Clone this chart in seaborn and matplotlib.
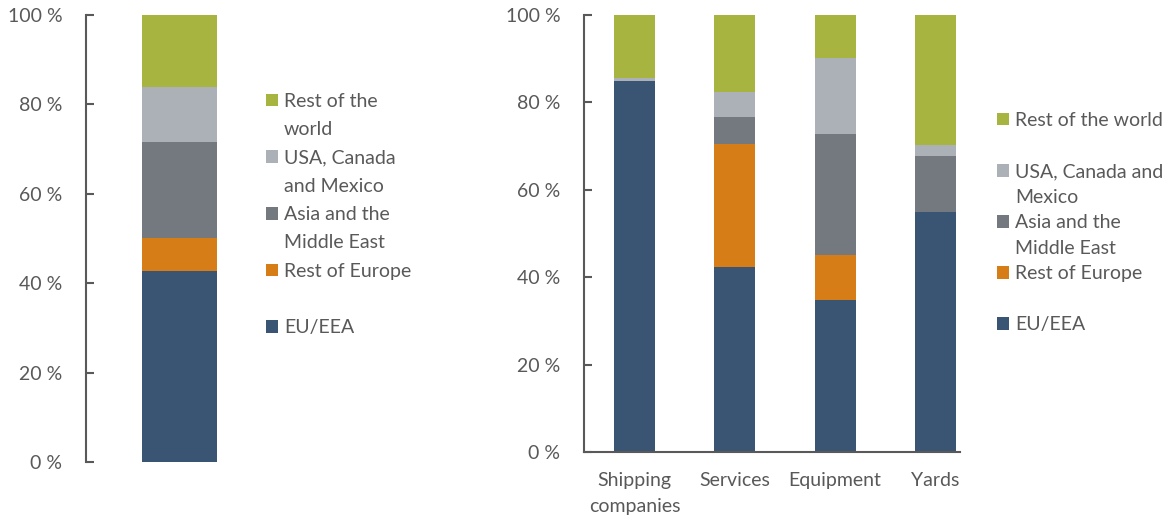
import matplotlib
matplotlib.use("Agg")
import matplotlib.pyplot as plt
import matplotlib.patches as mpatches
import seaborn as sns

sns.set_theme(style="white")
plt.rcParams['font.family'] = ['Lato', 'DejaVu Sans']

# ---- data ----
series = ["EU/EEA", "Rest of Europe", "Asia and the Middle East",
          "USA, Canada and Mexico", "Rest of the world"]
colors = ["#3A5573", "#D77D17", "#73797F", "#ABB1B7", "#A8B440"]

total_cat = ["Total"]
total_vals = [42.7, 7.5, 21.4, 12.3, 16.1]

categories = ["Shipping\ncompanies", "Services", "Equipment", "Yards"]
eu_eea = [84.8, 42.3, 34.9, 54.9]
rest_europe = [0.0, 28.2, 10.3, 0.0]
asia_me = [0.0, 6.2, 27.5, 12.7]
usa_can_mex = [0.8, 5.6, 17.4, 2.6]
rest_world = [14.4, 17.7, 9.9, 29.8]
segment_vals = [eu_eea, rest_europe, asia_me, usa_can_mex, rest_world]

yticks = [0, 20, 40, 60, 80, 100]
ytick_labels = ["0 %", "20 %", "40 %", "60 %", "80 %", "100 %"]

left_legend_lines = [("Rest of the", 4), ("world", None), ("USA, Canada", 3), ("and Mexico", None),
                     ("Asia and the", 2), ("Middle East", None), ("Rest of Europe", 1), (" ", None),
                     ("EU/EEA", 0)]
right_legend_lines = [("Rest of the world", 4), (" ", None), ("USA, Canada and", 3), ("Mexico", None),
                      ("Asia and the", 2), ("Middle East", None), ("Rest of Europe", 1), (" ", None),
                      ("EU/EEA", 0)]

TXT = "#595959"
SPINE = "#595959"
FS = 14

W, H = 1164, 518
fig = plt.figure(figsize=(W / 100, H / 100), dpi=100)

# ---- left panel ----
ax1 = fig.add_axes([86 / W, (H - 462) / H, 200 / W, 447 / H])
bottom = [0.0]
for i, name in enumerate(series):
    sns.barplot(x=total_cat, y=[total_vals[i]], bottom=bottom, color=colors[i],
                width=1.0, linewidth=0, saturation=1, ax=ax1)
    bottom = [bottom[0] + total_vals[i]]
ax1.set_xlim(-1.247, -1.247 + 200 / 75)
ax1.set_ylim(0, 100)

# ---- right panel ----
ax2 = fig.add_axes([584 / W, (H - 452.3) / H, 376 / W, 437.6 / H])
bottoms = [0.0] * len(categories)
for i, name in enumerate(series):
    sns.barplot(x=categories, y=segment_vals[i], bottom=bottoms, color=colors[i],
                width=0.41, linewidth=0, saturation=1, ax=ax2)
    bottoms = [b + v for b, v in zip(bottoms, segment_vals[i])]
ax2.set_xlim(-0.503, 3.245)
ax2.set_ylim(0, 100)

for ax in (ax1, ax2):
    ax.set_yticks(yticks)
    ax.set_yticklabels(ytick_labels)
    ax.set_xlabel("")
    ax.set_ylabel("")
    ax.tick_params(axis="y", direction="in", length=6, width=1.5, color=SPINE,
                   labelsize=FS, labelcolor=TXT, pad=17, left=True)
    for s in ("top", "right"):
        ax.spines[s].set_visible(False)
    ax.spines["left"].set_color(SPINE)
    ax.spines["left"].set_linewidth(1.5)
    ax.set_facecolor("none")

ax1.spines["bottom"].set_visible(False)
ax1.set_xticks([])
ax2.spines["bottom"].set_color(SPINE)
ax2.spines["bottom"].set_linewidth(1.5)
ax2.tick_params(axis="x", length=0, labelsize=FS, labelcolor=TXT, pad=14)
for t in ax2.get_xticklabels():
    t.set_linespacing(1.68)


def make_legend(lines, anchor, spacing):
    handles, labels = [], []
    for text, idx in lines:
        if idx is None:
            h = mpatches.Patch(facecolor="none", edgecolor="none")
        else:
            h = mpatches.Patch(facecolor=colors[idx], edgecolor="none")
        handles.append(h)
        labels.append(text)
    leg = fig.legend(handles, labels, loc="upper left", bbox_to_anchor=anchor,
                     bbox_transform=fig.transFigure, frameon=False, fontsize=FS,
                     handlelength=0.62, handleheight=0.62, handletextpad=0.3,
                     labelspacing=spacing, borderpad=0, borderaxespad=0)
    for t in leg.get_texts():
        t.set_color(TXT)
    return leg


make_legend(left_legend_lines, (266 / W, 1 - 93 / H), 0.58)
make_legend(right_legend_lines, (997 / W, 1 - 112 / H), 0.44)

fig.savefig("out.png", dpi=100)
